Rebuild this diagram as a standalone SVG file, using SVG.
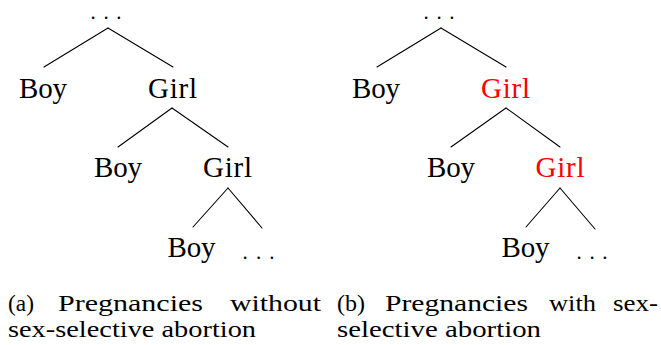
<svg xmlns="http://www.w3.org/2000/svg" width="661" height="345" viewBox="0 0 661 345">
<style>
text{font-family:"Liberation Serif","Times New Roman",serif;fill:#000}
.n{font-size:29px;text-anchor:middle}
.d{font-size:21px}
.c{font-size:23.5px}
.red{fill:#ff0000}
.e line{stroke:#000;stroke-width:1.1;stroke-linecap:round}
</style>
<rect width="661" height="345" fill="#fff"/>
<g id="edges" class="e">
<line x1="108" y1="28" x2="44" y2="67"/>
<line x1="108" y1="28" x2="173" y2="67"/>
<line x1="172" y1="108" x2="118" y2="147"/>
<line x1="172" y1="108" x2="228" y2="147"/>
<line x1="228" y1="188" x2="193" y2="227"/>
<line x1="228" y1="188" x2="262" y2="228"/>
<line x1="441" y1="28" x2="377" y2="67"/>
<line x1="441" y1="28" x2="506" y2="67"/>
<line x1="506" y1="108" x2="451" y2="147"/>
<line x1="506" y1="108" x2="560" y2="147"/>
<line x1="560" y1="188" x2="526" y2="227"/>
<line x1="560" y1="188" x2="595" y2="229"/>
</g>
<g id="a-root"><text class="d" x="90.4" y="18.5" textLength="31.2">...</text></g>
<g id="a-boy1"><text class="n" x="43" y="98" textLength="48">Boy</text></g>
<g id="a-girl1"><text class="n" x="172.5" y="98" textLength="49">Girl</text></g>
<g id="a-boy2"><text class="n" x="118" y="177" textLength="48">Boy</text></g>
<g id="a-girl2"><text class="n" x="227.5" y="177" textLength="49">Girl</text></g>
<g id="a-boy3"><text class="n" x="191.5" y="257" textLength="48">Boy</text></g>
<g id="a-dots"><text class="d" x="242.4" y="259" textLength="32.2">...</text></g>
<g id="b-root"><text class="d" x="423.4" y="18.5" textLength="31.2">...</text></g>
<g id="b-boy1"><text class="n" x="376" y="98" textLength="48">Boy</text></g>
<g id="b-girl1"><text class="n red" x="505.5" y="98" textLength="49">Girl</text></g>
<g id="b-boy2"><text class="n" x="451" y="177" textLength="48">Boy</text></g>
<g id="b-girl2"><text class="n red" x="560" y="177" textLength="49">Girl</text></g>
<g id="b-boy3"><text class="n" x="525.5" y="257" textLength="48">Boy</text></g>
<g id="b-dots"><text class="d" x="576.4" y="259" textLength="31.2">...</text></g>
<g id="caption-a">
<text class="c" x="8" y="311" textLength="26" lengthAdjust="spacingAndGlyphs">(a)</text>
<text class="c" x="58" y="311" textLength="145" lengthAdjust="spacingAndGlyphs">Pregnancies</text>
<text class="c" x="230" y="311" textLength="91" lengthAdjust="spacingAndGlyphs">without</text>
<text class="c" x="8" y="337" textLength="248" lengthAdjust="spacingAndGlyphs">sex-selective abortion</text>
</g>
<g id="caption-b">
<text class="c" x="337" y="311" textLength="28" lengthAdjust="spacingAndGlyphs">(b)</text>
<text class="c" x="385" y="311" textLength="143" lengthAdjust="spacingAndGlyphs">Pregnancies</text>
<text class="c" x="549" y="311" textLength="47" lengthAdjust="spacingAndGlyphs">with</text>
<text class="c" x="613" y="311" textLength="45" lengthAdjust="spacingAndGlyphs">sex-</text>
<text class="c" x="337" y="337" textLength="204" lengthAdjust="spacingAndGlyphs">selective abortion</text>
</g>
</svg>
